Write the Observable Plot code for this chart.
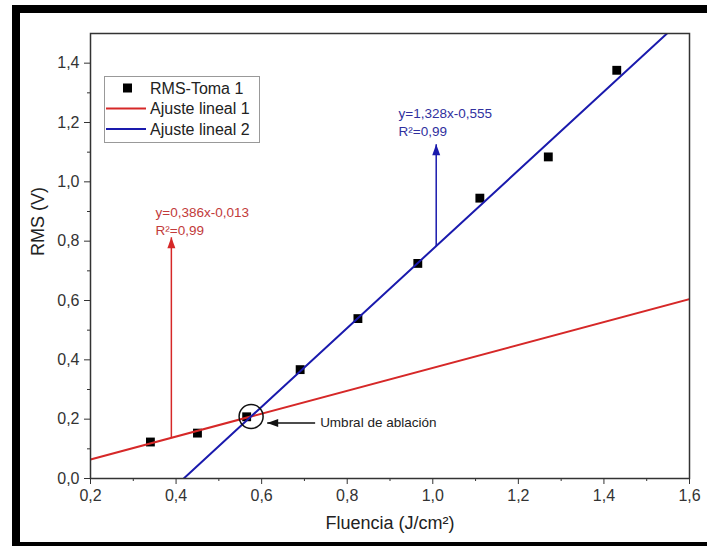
<!DOCTYPE html>
<html>
<head>
<meta charset="utf-8">
<script src="https://cdn.jsdelivr.net/npm/d3@7"></script>
<script src="https://cdn.jsdelivr.net/npm/@observablehq/plot@0.6"></script>
<style>
  html, body { margin: 0; padding: 0; background: #fff; overflow: hidden; }
  #wrap { position: relative; width: 707px; height: 546px; overflow: hidden; background: #fff; }
  #chart { position: absolute; left: 0; top: 0; }
  #border { position: absolute; left: 12px; top: 5px; width: 720px; height: 545px;
            border: 8px solid #000; box-sizing: border-box; pointer-events: none; }
</style>
</head>
<body>
<div id="wrap"><div id="chart"></div><div id="border"></div></div>
<script>
// Measured RMS voltage against laser fluence (first measurement)
const fluence = [0.34, 0.45, 0.565, 0.69, 0.825, 0.965, 1.11, 1.27, 1.43];
const rms     = [0.123, 0.153, 0.208, 0.367, 0.539, 0.725, 0.945, 1.084, 1.376];
const seriesName = "RMS-Toma 1";

// Linear fits below and above the ablation threshold
const fitNames      = ["Ajuste lineal 1", "Ajuste lineal 2"];
const fitSlopes     = [0.386, 1.328];
const fitIntercepts = [-0.013, -0.555];
const fitEquations  = ["y=0,386x-0,013", "y=1,328x-0,555"];
const fitR2         = ["R²=0,99", "R²=0,99"];

// Annotation anchors (data units): arrow column, arrow tip, label corner
const fitArrowX   = [0.389, 1.008];
const fitArrowTop = [0.813, 1.127];
const fitLabelX   = [0.352, 0.920];
const fitLabelY   = [0.897, 1.231];

const thresholdText = "Umbral de ablación";
const thresholdArrowFrom = 0.725;
const thresholdArrowTo   = 0.613;
const thresholdArrowY    = 0.187;

// Axes
const xDomain = [0.2, 1.6];
const yDomain = [0, 1.5];
const xTicks = [0.2, 0.4, 0.6, 0.8, 1.0, 1.2, 1.4, 1.6];
const xMinor = [0.3, 0.5, 0.7, 0.9, 1.1, 1.3, 1.5];
const yTicks = [0, 0.2, 0.4, 0.6, 0.8, 1.0, 1.2, 1.4];
const yMinor = [0.1, 0.3, 0.5, 0.7, 0.9, 1.1, 1.3];
const xLabel = "Fluencia (J/cm²)";
const yLabel = "RMS (V)";

const lineColors = ["#d62828", "#1a1aad"];
const textColors = ["#c23b3b", "#30309e"];
const font = 'Arial, "Liberation Sans", sans-serif';
const comma = d => d.toFixed(1).replace(".", ",");

const points = fluence.map((x, i) => ({x, y: rms[i]}));
const fits = fitNames.map((name, i) => ({
  name, m: fitSlopes[i], b: fitIntercepts[i], color: lineColors[i], text: textColors[i],
  eq: fitEquations[i], r2: fitR2[i], ax: fitArrowX[i], top: fitArrowTop[i],
  lx: fitLabelX[i], ly: fitLabelY[i]
}));
const fitLines = fits.flatMap(f => xDomain.map(x => ({name: f.name, x, y: f.m * x + f.b, color: f.color})));
const arrows = fits.map(f => ({x: f.ax, y1: f.m * f.ax + f.b, y2: f.top, color: f.color, text: f.text}));

// Intersection of the two fits = ablation threshold
const xi = (fits[1].b - fits[0].b) / (fits[0].m - fits[1].m);
const yi = fits[0].m * xi + fits[0].b;

// Filled arrowhead with its tip at the origin, pointing up
const head = {draw(c) { c.moveTo(0, 0); c.lineTo(4, 11); c.lineTo(-4, 11); c.closePath(); }};

const plot = Plot.plot({
  width: 707,
  height: 546,
  marginLeft: 90,
  marginTop: 33,
  marginRight: 18,
  marginBottom: 68,
  style: {fontFamily: font, fontSize: "16px", color: "#333", background: "transparent"},
  x: {domain: xDomain},
  y: {domain: yDomain},
  marks: [
    Plot.axisX(xTicks, {tickSize: 6, tickPadding: 5, tickFormat: comma, fontSize: 16, fill: "#333", stroke: "#333", label: null}),
    Plot.axisX(xMinor, {tickSize: 3, tickFormat: () => "", stroke: "#333", label: null}),
    Plot.axisY(yTicks, {tickSize: 6, tickPadding: 5, tickFormat: comma, fontSize: 16, fill: "#333", stroke: "#333", label: null}),
    Plot.axisY(yMinor, {tickSize: 3, tickFormat: () => "", stroke: "#333", label: null}),
    Plot.text([yLabel], {text: d => d, frameAnchor: "left", dx: -52, rotate: -90, fontSize: 18, fill: "#222"}),
    Plot.text([xLabel], {text: d => d, frameAnchor: "bottom", dy: 50, fontSize: 18, fill: "#222"}),

    // data points
    Plot.dot(points, {x: "x", y: "y", symbol: "square", r: 5, fill: "#000"}),

    // fitted lines
    Plot.line(fitLines, {x: "x", y: "y", z: "name", stroke: "color", strokeWidth: 2, clip: true}),

    // fit annotations
    Plot.link(arrows, {x1: "x", x2: "x", y1: "y1", y2: "y2", stroke: "color", strokeWidth: 1.5}),
    Plot.dot(arrows, {x: "x", y: "y2", symbol: head, fill: "color", stroke: "none"}),
    Plot.text(fits, {x: "lx", y: "ly", text: "eq", fill: "text", textAnchor: "start", fontSize: 13.5}),
    Plot.text(fits, {x: "lx", y: "ly", text: "r2", fill: "text", textAnchor: "start", fontSize: 13.5, dy: 18}),

    // threshold marker
    Plot.dot([{x: xi, y: yi}], {x: "x", y: "y", r: 12, stroke: "#111", strokeWidth: 1.5, fill: "none"}),
    Plot.link([0], {x1: () => thresholdArrowFrom, x2: () => thresholdArrowTo, y1: () => thresholdArrowY, y2: () => thresholdArrowY, stroke: "#111", strokeWidth: 1.5}),
    Plot.dot([0], {x: () => thresholdArrowTo, y: () => thresholdArrowY, symbol: head, rotate: -90, fill: "#111", stroke: "none"}),
    Plot.text([thresholdText], {text: d => d, x: () => thresholdArrowFrom, y: () => thresholdArrowY, dx: 5, textAnchor: "start", fontSize: 13.5, fill: "#222"}),

    Plot.frame({stroke: "#333", strokeWidth: 1.5})
  ]
});

document.getElementById("chart").appendChild(plot);

// Legend box in the upper-left corner of the frame
const svg = d3.select(plot);
const lg = svg.append("g")
  .attr("font-family", font).attr("font-size", 16).attr("fill", "#222").attr("text-anchor", "start");
lg.append("rect").attr("x", 104.5).attr("y", 76.5).attr("width", 155).attr("height", 66)
  .attr("fill", "#fff").attr("stroke", "#999").attr("stroke-width", 1);
const rows = [{label: seriesName, kind: "dot"}].concat(fits.map(f => ({label: f.name, kind: "line", color: f.color})));
rows.forEach((r, i) => {
  const cy = 88 + i * 20.5;
  if (r.kind === "dot") {
    lg.append("rect").attr("x", 123).attr("y", cy - 4.5).attr("width", 9).attr("height", 9).attr("fill", "#000");
  } else {
    lg.append("line").attr("x1", 106).attr("x2", 146).attr("y1", cy).attr("y2", cy)
      .attr("stroke", r.color).attr("stroke-width", 2);
  }
  lg.append("text").attr("x", 150).attr("y", cy).attr("dy", "0.35em")
    .attr("text-anchor", "start").attr("font-size", 16).text(r.label);
});
</script>
</body>
</html>
